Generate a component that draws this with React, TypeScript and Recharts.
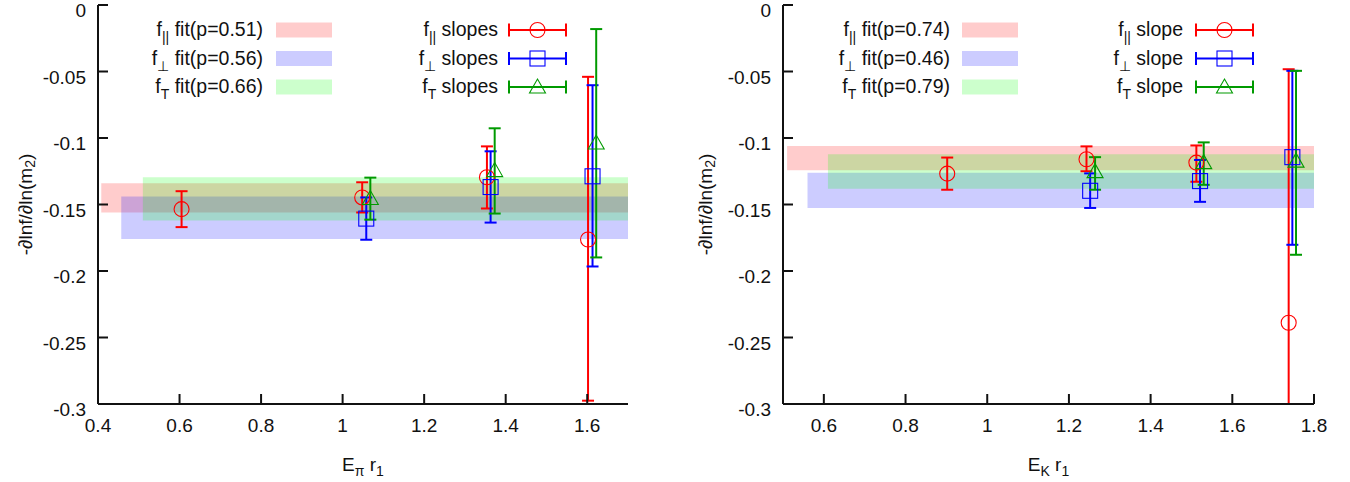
import React from 'react';
import { ScatterChart, Scatter, XAxis, YAxis, ErrorBar, ReferenceArea } from 'recharts';

const FONT = '"Liberation Sans", Arial, Helvetica, sans-serif';
const RED = '#ff0000';
const BLUE = '#0000ff';
const GREEN = '#009a00';
const INK = '#111111';

// ---- left panel: E_pi r1 ----
const piParX = [0.605, 1.048, 1.354, 1.602];
const piParY = [-0.1535, -0.1447, -0.1295, -0.1763];
const piParLo = [-0.167, -0.156, -0.153, -0.2975];
const piParHi = [-0.14, -0.1333, -0.1063, -0.054];

const piPerpX = [1.058, 1.363, 1.613];
const piPerpY = [-0.1606, -0.1369, -0.1288];
const piPerpLo = [-0.1765, -0.1636, -0.1966];
const piPerpHi = [-0.1447, -0.11, -0.0603];

const piTX = [1.068, 1.373, 1.622];
const piTY = [-0.1455, -0.1245, -0.1038];
const piTLo = [-0.1614, -0.1568, -0.1898];
const piTHi = [-0.1298, -0.0927, -0.0181];

// fit bands: par, perp, T
const piBandStart = [0.408, 0.457, 0.51];
const piBandLo = [-0.156, -0.176, -0.162];
const piBandHi = [-0.134, -0.144, -0.1295];
const piFitP = ['0.51', '0.56', '0.66'];

// ---- right panel: E_K r1 ----
const kParX = [0.902, 1.243, 1.512, 1.738];
const kParY = [-0.1268, -0.116, -0.1185, -0.2389];
const kParLo = [-0.1389, -0.125, -0.1329, -0.36];
const kParHi = [-0.1147, -0.1063, -0.1056, -0.0483];

const kPerpX = [1.252, 1.521, 1.747];
const kPerpY = [-0.1397, -0.1324, -0.1144];
const kPerpLo = [-0.1526, -0.148, -0.1803];
const kPerpHi = [-0.1266, -0.1165, -0.0495];

const kTX = [1.264, 1.53, 1.756];
const kTY = [-0.1253, -0.1185, -0.1174];
const kTLo = [-0.1389, -0.1352, -0.1878];
const kTHi = [-0.1144, -0.1033, -0.0495];

const kBandStart = [0.51, 0.56, 0.61];
const kBandLo = [-0.1243, -0.1526, -0.1382];
const kBandHi = [-0.106, -0.1261, -0.1122];
const kFitP = ['0.74', '0.46', '0.79'];

const xTicksPi = [0.4, 0.6, 0.8, 1, 1.2, 1.4, 1.6];
const xTicksK = [0.6, 0.8, 1, 1.2, 1.4, 1.6, 1.8];
const yTicks = [0, -0.05, -0.1, -0.15, -0.2, -0.25, -0.3];

const toRows = (xs: number[], ys: number[], lo: number[], hi: number[]) =>
  xs.map((x, i) => ({ x, y: ys[i], err: [ys[i] - lo[i], hi[i] - ys[i]] }));

const COLORS = [RED, BLUE, GREEN];
const BAND_COLORS = ['#ff0000', '#0000ff', '#00ff00'];
const SUBS = ['||', '\u22A5', 'T'];

type Kind = 0 | 1 | 2;

const Marker = ({ kind, cx, cy }: { kind: Kind; cx: number; cy: number }) => {
  const c = COLORS[kind];
  if (kind === 0) return <circle cx={cx} cy={cy} r={7.5} fill="none" stroke={c} strokeWidth={1.1} />;
  if (kind === 1)
    return <rect x={cx - 7.5} y={cy - 7.5} width={15} height={15} fill="none" stroke={c} strokeWidth={1.1} />;
  return (
    <polygon
      points={`${cx - 8},${cy + 6} ${cx + 8},${cy + 6} ${cx},${cy - 8}`}
      fill="none"
      stroke={c}
      strokeWidth={1.1}
    />
  );
};

const Fsub = ({ sub, rest }: { sub: string; rest: string }) => (
  <>
    <tspan>f</tspan>
    <tspan dy={6} fontSize={14}>
      {sub}
    </tspan>
    <tspan dy={-6}>{rest}</tspan>
  </>
);

const XTick = (props: any) => (
  <text x={props.x} y={props.y} textAnchor="middle" fontSize={19} fontFamily={FONT} fill={INK}>
    {String(props.payload.value)}
  </text>
);

const YTick = (props: any) => (
  <text x={props.x} y={props.y + 12} textAnchor="end" fontSize={19} fontFamily={FONT} fill={INK}>
    {String(props.payload.value)}
  </text>
);

interface PanelProps {
  id: string;
  left: number;
  width: number;
  marginRight: number;
  yAxisWidth: number;
  xDomain: [number, number];
  xTicks: number[];
  series: { x: number; y: number; err: number[] }[][];
  bandStart: number[];
  bandLo: number[];
  bandHi: number[];
  fitP: string[];
  slopeWord: string;
  xSub: string;
  legendTextX: number;
  legendRectX: number;
  slopeTextX: number;
  sampleX: number;
}

const H = 482;
const TOP = 5;
const XAXIS_H = 78;

const Panel = (p: PanelProps) => {
  const plotLeft = 8 + p.yAxisWidth;
  const plotRight = p.width - p.marginRight;
  const plotBottom = H - XAXIS_H;
  const plotMidX = (plotLeft + plotRight) / 2;
  const plotMidY = (TOP + plotBottom) / 2;
  const rowBase = [36, 64.5, 93];
  const clipId = `clip-${p.id}`;
  const css = `.panel-${p.id} .recharts-errorBar, .panel-${p.id} .recharts-errorBars, .panel-${p.id} .recharts-scatter { clip-path: url(#${clipId}); }`;
  return (
    <div className={`panel-${p.id}`} style={{ position: 'absolute', left: p.left, top: 0, width: p.width, height: H }}>
      <style>{css}</style>
      <svg width={0} height={0} style={{ position: 'absolute' }}>
        <defs>
          <clipPath id={clipId} clipPathUnits="userSpaceOnUse">
            <rect x={plotLeft - 2} y={TOP - 2} width={plotRight - plotLeft + 4} height={plotBottom - TOP + 2} />
          </clipPath>
        </defs>
      </svg>
      <ScatterChart width={p.width} height={H} margin={{ top: TOP, right: p.marginRight, left: 8, bottom: 0 }}>
        <XAxis
          dataKey="x"
          type="number"
          domain={p.xDomain}
          allowDataOverflow
          ticks={p.xTicks}
          interval={0}
          height={XAXIS_H}
          tickSize={-10}
          tickMargin={38}
          tick={<XTick />}
          axisLine={{ stroke: INK, strokeWidth: 2 }}
          tickLine={{ stroke: INK, strokeWidth: 2 }}
        />
        <XAxis
          xAxisId="top"
          orientation="top"
          dataKey="x"
          type="number"
          domain={p.xDomain}
          allowDataOverflow
          ticks={p.xTicks}
          interval={0}
          height={0}
          tickSize={-10}
          tick={false}
          axisLine={{ stroke: INK, strokeWidth: 2 }}
          tickLine={{ stroke: INK, strokeWidth: 2 }}
        />
        <YAxis
          dataKey="y"
          type="number"
          domain={[-0.3, 0]}
          allowDataOverflow
          ticks={yTicks}
          interval={0}
          width={p.yAxisWidth}
          tickSize={-10}
          tickMargin={22}
          tick={<YTick />}
          axisLine={{ stroke: INK, strokeWidth: 2 }}
          tickLine={{ stroke: INK, strokeWidth: 2 }}
        />
        <YAxis
          yAxisId="right"
          orientation="right"
          dataKey="y"
          type="number"
          domain={[-0.3, 0]}
          allowDataOverflow
          ticks={yTicks}
          interval={0}
          width={0}
          tickSize={-10}
          tick={false}
          axisLine={{ stroke: INK, strokeWidth: 2 }}
          tickLine={{ stroke: INK, strokeWidth: 2 }}
        />
        {p.bandStart.map((s, i) => (
          <ReferenceArea
            key={`band${i}`}
            x1={s}
            x2={p.xDomain[1]}
            y1={p.bandLo[i]}
            y2={p.bandHi[i]}
            fill={BAND_COLORS[i]}
            fillOpacity={0.2}
            stroke="none"
            ifOverflow="visible"
          />
        ))}
        {p.series.map((rows, i) => (
          <Scatter
            key={`s${i}`}
            data={rows}
            dataKey="y"
            isAnimationActive={false}
            shape={(sp: any) => <Marker kind={i as Kind} cx={sp.cx} cy={sp.cy} />}
          >
            <ErrorBar dataKey="err" direction="y" width={6} stroke={COLORS[i]} strokeWidth={2} isAnimationActive={false} />
          </Scatter>
        ))}
      </ScatterChart>
      <svg
        width={p.width}
        height={H}
        style={{ position: 'absolute', left: 0, top: 0, pointerEvents: 'none' }}
        fontFamily={FONT}
        fill={INK}
      >
        {rowBase.map((b, i) => (
          <g key={`leg${i}`}>
            <text x={p.legendTextX} y={b} textAnchor="end" fontSize={19.5}>
              <Fsub sub={SUBS[i]} rest={` fit(p=${p.fitP[i]})`} />
            </text>
            <rect x={p.legendRectX} y={b - 13.5} width={56} height={15} fill={BAND_COLORS[i]} fillOpacity={0.2} />
            <text x={p.slopeTextX} y={b} textAnchor="end" fontSize={19.5}>
              <Fsub sub={SUBS[i]} rest={` ${p.slopeWord}`} />
            </text>
            <g stroke={COLORS[i]} strokeWidth={2}>
              <line x1={p.sampleX} x2={p.sampleX + 57} y1={b - 6} y2={b - 6} />
              <line x1={p.sampleX} x2={p.sampleX} y1={b - 12.5} y2={b + 0.5} />
              <line x1={p.sampleX + 57} x2={p.sampleX + 57} y1={b - 12.5} y2={b + 0.5} />
            </g>
            <Marker kind={i as Kind} cx={p.sampleX + 28.5} cy={b - 6} />
          </g>
        ))}
        <text x={plotMidX} y={471} textAnchor="middle" fontSize={19}>
          <tspan>E</tspan>
          <tspan dy={5} fontSize={14}>
            {p.xSub}
          </tspan>
          <tspan dy={-5}> r</tspan>
          <tspan dy={5} fontSize={14}>
            1
          </tspan>
        </text>
        <text
          x={25}
          y={plotMidY}
          transform={`rotate(-90 25 ${plotMidY})`}
          textAnchor="middle"
          dominantBaseline="central"
          fontSize={19}
        >
          <tspan>-∂lnf/∂ln(m</tspan>
          <tspan dy={5} fontSize={14}>
            2
          </tspan>
          <tspan dy={-5}>)</tspan>
        </text>
      </svg>
    </div>
  );
};

const App = () => {
  const piSeries = [
    toRows(piParX, piParY, piParLo, piParHi),
    toRows(piPerpX, piPerpY, piPerpLo, piPerpHi),
    toRows(piTX, piTY, piTLo, piTHi),
  ];
  const kSeries = [
    toRows(kParX, kParY, kParLo, kParHi),
    toRows(kPerpX, kPerpY, kPerpLo, kPerpHi),
    toRows(kTX, kTY, kTLo, kTHi),
  ];
  return (
    <div style={{ position: 'absolute', left: 0, top: 0, width: 1350, height: H, background: '#fff' }}>
      <Panel
        id="pi"
        left={0}
        width={650}
        marginRight={22}
        yAxisWidth={90}
        xDomain={[0.4, 1.7]}
        xTicks={xTicksPi}
        series={piSeries}
        bandStart={piBandStart}
        bandLo={piBandLo}
        bandHi={piBandHi}
        fitP={piFitP}
        slopeWord="slopes"
        xSub="π"
        legendTextX={263}
        legendRectX={276}
        slopeTextX={498}
        sampleX={509}
      />
      <Panel
        id="k"
        left={680}
        width={670}
        marginRight={36}
        yAxisWidth={95}
        xDomain={[0.5, 1.8]}
        xTicks={xTicksK}
        series={kSeries}
        bandStart={kBandStart}
        bandLo={kBandLo}
        bandHi={kBandHi}
        fitP={kFitP}
        slopeWord="slope"
        xSub="K"
        legendTextX={270}
        legendRectX={282}
        slopeTextX={503}
        sampleX={516}
      />
    </div>
  );
};

export default App;
